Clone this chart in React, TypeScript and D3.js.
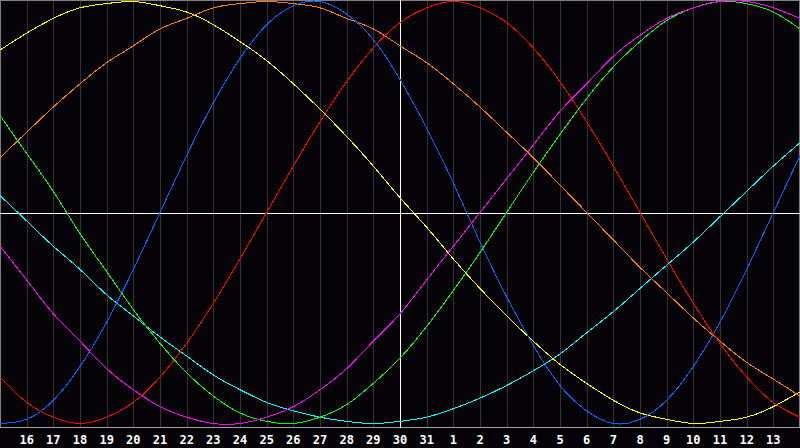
import React, { useEffect } from "react";
import * as d3 from "d3";

// day offsets from today (t = 0 is the 30th), one sample per day
const dayOffsets: number[] = d3.range(-15, 16);

const tickOffsets: number[] = d3.range(-14, 15);
const tickLabels: string[] = [
  "16", "17", "18", "19", "20", "21", "22", "23", "24", "25", "26", "27", "28", "29", "30", "31",
  "1", "2", "3", "4", "5", "6", "7", "8", "9", "10", "11", "12", "13",
];

// values in percent (-100..100), read per day from t=-15 to t=15
const physical: number[] = [-100, -98, -89, -73, -52, -27, 0, 27, 52, 73, 89, 98, 100, 94, 82, 63, 40, 14, -14, -40, -63, -82, -94, -100, -98, -89, -73, -52, -27, 0, 27];
const emotional: number[] = [-78, -90, -97, -100, -97, -90, -78, -62, -43, -22, 0, 22, 43, 62, 78, 90, 97, 100, 97, 90, 78, 62, 43, 22, 0, -22, -43, -62, -78, -90, -97];
const intellectual: number[] = [46, 28, 10, -10, -28, -46, -62, -76, -87, -95, -99, -100, -97, -91, -81, -69, -54, -37, -19, 0, 19, 37, 54, 69, 81, 91, 97, 100, 99, 95, 87];
const intuitive: number[] = [-16, -32, -48, -61, -74, -84, -92, -97, -100, -100, -97, -92, -84, -74, -61, -48, -32, -16, 0, 16, 32, 48, 61, 74, 84, 92, 97, 100, 100, 97, 92];
const aesthetic: number[] = [77, 85, 92, 97, 99, 100, 98, 95, 89, 81, 72, 61, 49, 36, 22, 7, -7, -22, -36, -49, -61, -72, -81, -89, -95, -98, -100, -99, -97, -92, -85];
const awareness: number[] = [26, 38, 50, 61, 71, 79, 87, 92, 97, 99, 100, 99, 97, 92, 87, 79, 71, 61, 50, 38, 26, 13, 0, -13, -26, -38, -50, -61, -71, -79, -87];
const spiritual: number[] = [8, -4, -16, -27, -39, -49, -59, -68, -77, -84, -90, -94, -97, -99, -100, -99, -97, -93, -88, -82, -75, -67, -57, -47, -36, -25, -14, -2, 10, 22, 33];

const seriesList = [
  { name: "spiritual", values: spiritual, color: "#00ffff" },
  { name: "awareness", values: awareness, color: "#ff8000" },
  { name: "aesthetic", values: aesthetic, color: "#ffff00" },
  { name: "physical", values: physical, color: "#0066ff" },
  { name: "emotional", values: emotional, color: "#ff0000" },
  { name: "intellectual", values: intellectual, color: "#00ff00" },
  { name: "intuitive", values: intuitive, color: "#ff00ff" },
];

const W = 800;
const H = 448;
const AXIS_Y = 427.5;

export default function App() {
  useEffect(() => {
    document.body.style.margin = "0";
    document.body.style.background = "#050308";
  }, []);

  const x = d3.scaleLinear().domain([-15, 15]).range([0, 800]);
  const y = d3.scaleLinear().domain([-100, 100]).range([423.5, 1.5]);

  const line = d3
    .line<number>()
    .x((_, i) => x(dayOffsets[i]))
    .y((v) => y(v))
    .curve(d3.curveNatural);

  return (
    <svg width={W} height={H} style={{ display: "block" }}>
      <rect x={0} y={0} width={W} height={H} fill="#050308" />
      {tickOffsets.map((t) => (
        <line
          key={"g" + t}
          x1={Math.round(x(t)) + 0.5}
          x2={Math.round(x(t)) + 0.5}
          y1={0}
          y2={AXIS_Y}
          stroke="#333333"
          strokeWidth={1}
          shapeRendering="crispEdges"
        />
      ))}
      {/* border */}
      <line x1={0} x2={W} y1={0.5} y2={0.5} stroke="#808080" shapeRendering="crispEdges" />
      <line x1={0.5} x2={0.5} y1={0} y2={AXIS_Y} stroke="#808080" shapeRendering="crispEdges" />
      <line x1={W - 0.5} x2={W - 0.5} y1={0} y2={AXIS_Y} stroke="#808080" shapeRendering="crispEdges" />
      <line x1={0} x2={W} y1={AXIS_Y} y2={AXIS_Y} stroke="#a0a0a0" shapeRendering="crispEdges" />
      {/* centre lines */}
      <line x1={0} x2={W} y1={213.5} y2={213.5} stroke="#ffffff" shapeRendering="crispEdges" />
      <line x1={x(0) + 0.5} x2={x(0) + 0.5} y1={0} y2={AXIS_Y} stroke="#ffffff" shapeRendering="crispEdges" />
      {seriesList.map((s) => (
        <path
          key={s.name}
          d={line(s.values) || ""}
          fill="none"
          stroke={s.color}
          strokeWidth={1}
          shapeRendering="crispEdges"
        />
      ))}
      {tickOffsets.map((t, i) => (
        <text
          key={"l" + t}
          x={x(t)}
          y={444}
          textAnchor="middle"
          fill="#ffffff"
          fontFamily="'DejaVu Sans Mono', monospace"
          fontWeight="bold"
          fontSize={12}
        >
          {tickLabels[i]}
        </text>
      ))}
    </svg>
  );
}
